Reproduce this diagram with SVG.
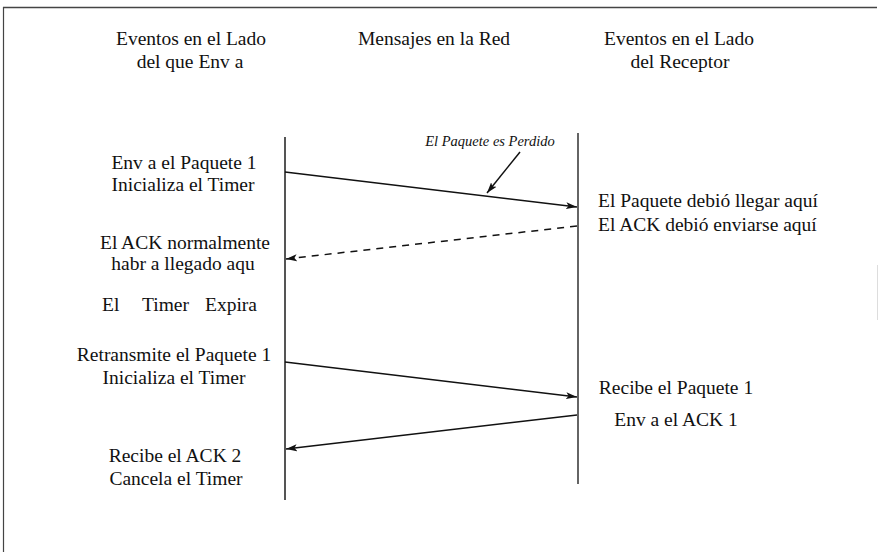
<svg xmlns="http://www.w3.org/2000/svg" width="880" height="552" viewBox="0 0 880 552">
<defs>
<marker id="ah" markerUnits="userSpaceOnUse" markerWidth="12" markerHeight="8" refX="11" refY="4" orient="auto">
<path d="M0,0.5 L11,4 L0,7.5 L2.5,4 z" fill="#111"/>
</marker>
<style>
.t{font-family:"Liberation Serif","Times New Roman",serif;font-size:19.5px;fill:#111}
.m{text-anchor:middle}
.it{font-family:"Liberation Serif","Times New Roman",serif;font-size:14.5px;font-style:italic;fill:#111;text-anchor:middle}
.ln{stroke:#111;stroke-width:1.5;fill:none}
</style>
</defs>
<rect width="880" height="552" fill="#fff"/>
<g id="frame">
<line x1="3" y1="7.5" x2="877" y2="7.5" stroke="#444" stroke-width="1.5"/>
<line x1="3.5" y1="7" x2="3.5" y2="552" stroke="#444" stroke-width="1.2"/>
<line x1="877.5" y1="265" x2="877.5" y2="320" stroke="#ddd" stroke-width="1"/>
</g>
<g id="headers">
<text class="t m" x="191" y="45">Eventos en el Lado</text>
<text class="t m" x="190" y="68">del que Env a</text>
<text class="t m" x="434" y="45">Mensajes en la Red</text>
<text class="t m" x="679" y="45">Eventos en el Lado</text>
<text class="t m" x="680" y="68">del Receptor</text>
</g>
<g id="lifelines">
<line id="sender-line" x1="285" y1="137" x2="285" y2="500" stroke="#555" stroke-width="2"/>
<line id="receiver-line" x1="578" y1="133" x2="578" y2="484" stroke="#111" stroke-width="1.3"/>
</g>
<g id="sender-events">
<text class="t m" x="184" y="169">Env a el Paquete 1</text>
<text class="t m" x="183" y="191">Inicializa el Timer</text>
<text class="t m" x="185" y="249">El ACK normalmente</text>
<text class="t m" x="183" y="270">habr a llegado aqu</text>
<text class="t" y="311"><tspan x="102">El</tspan><tspan x="142">Timer</tspan><tspan x="205">Expira</tspan></text>
<text class="t m" x="174" y="361">Retransmite el Paquete 1</text>
<text class="t m" x="174" y="384">Inicializa el Timer</text>
<text class="t m" x="175" y="462">Recibe el ACK 2</text>
<text class="t m" x="176" y="485">Cancela el Timer</text>
</g>
<g id="receiver-events">
<text class="t" x="598" y="207">El Paquete debió llegar aquí</text>
<text class="t" x="598" y="231">El ACK debió enviarse aquí</text>
<text class="t m" x="676" y="394">Recibe el Paquete 1</text>
<text class="t m" x="676" y="426">Env a el ACK 1</text>
</g>
<g id="lost-label">
<text class="it" x="490" y="146">El Paquete es Perdido</text>
</g>
<g id="connectors">
<line class="ln" x1="285" y1="172" x2="577" y2="207" marker-end="url(#ah)"/>
<line class="ln" x1="520" y1="152" x2="487" y2="193" marker-end="url(#ah)"/>
<line class="ln" x1="577" y1="226" x2="286" y2="259" stroke-dasharray="7,6" marker-end="url(#ah)"/>
<line class="ln" x1="285" y1="362" x2="577" y2="397" marker-end="url(#ah)"/>
<line class="ln" x1="577" y1="415" x2="286" y2="449" marker-end="url(#ah)"/>
</g>
</svg>
